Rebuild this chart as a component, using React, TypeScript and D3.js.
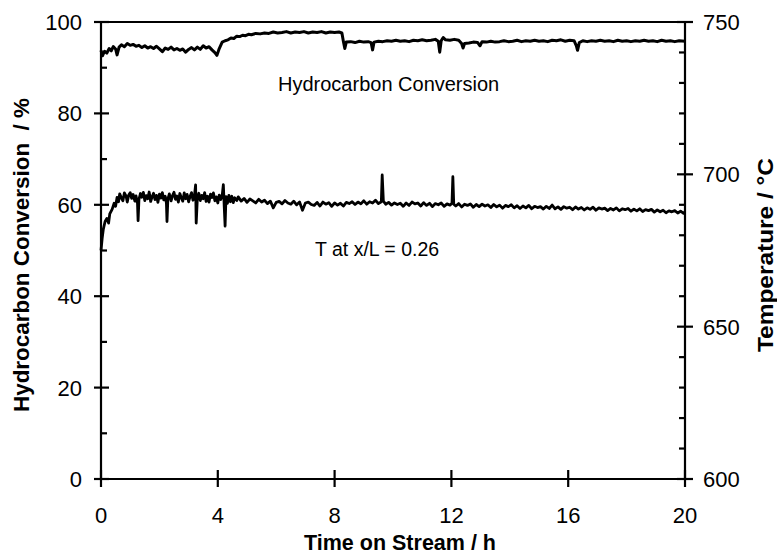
import React from "react";
import * as d3 from "d3";

// Hydrocarbon conversion (%) vs time on stream (h)
const conversion: [number, number][] = [
  [0,93.8],[0.05,92.6],[0.12,93.6],[0.2,93.2],[0.28,94.2],[0.35,93.7],[0.42,94.6],[0.5,94.1],[0.55,92.8],[0.62,94.5],[0.7,95.0],[0.8,94.6],[0.9,95.3],[1.0,94.9],[1.1,95.1],[1.2,94.7],[1.3,94.9],[1.4,94.4],[1.5,94.8],[1.6,94.3],[1.7,94.6],[1.8,94.2],[1.9,94.7],[2.0,94.1],[2.1,93.5],[2.2,94.3],[2.3,94.0],[2.4,94.5],[2.5,93.9],[2.6,94.2],[2.7,93.8],[2.8,94.1],[2.9,93.4],[3.0,94.0],[3.1,94.4],[3.2,93.9],[3.3,94.5],[3.4,94.0],[3.5,94.8],[3.6,94.3],[3.7,94.6],[3.8,93.9],[3.9,93.3],[3.97,92.7],[4.05,94.2],[4.15,95.6],[4.25,95.9],[4.35,96.1],[4.45,96.5],[4.55,96.4],[4.65,96.9],[4.75,96.8],[4.85,97.1],[4.95,97.0],[5.05,97.3],[5.15,97.2],[5.3,97.5],[5.45,97.4],[5.6,97.6],[5.75,97.5],[5.9,97.8],[6.05,97.6],[6.2,97.7],[6.35,97.9],[6.5,97.6],[6.65,97.8],[6.8,97.7],[6.95,97.9],[7.1,97.6],[7.25,97.8],[7.4,97.7],[7.55,97.9],[7.7,97.6],[7.85,97.8],[8.0,97.7],[8.15,97.8],[8.25,97.6],[8.3,95.8],[8.35,94.2],[8.4,95.6],[8.55,95.7],[8.7,95.5],[8.85,95.8],[9.0,95.6],[9.15,95.7],[9.25,95.5],[9.3,93.9],[9.35,95.6],[9.5,95.8],[9.65,95.7],[9.8,95.9],[9.95,95.8],[10.1,96.0],[10.25,95.8],[10.4,95.9],[10.55,95.7],[10.7,96.0],[10.85,95.9],[11.0,96.1],[11.15,95.9],[11.3,96.0],[11.45,96.2],[11.55,95.8],[11.6,93.4],[11.65,95.9],[11.72,96.6],[11.8,96.1],[11.95,96.0],[12.1,96.2],[12.25,96.0],[12.35,95.3],[12.4,94.3],[12.45,95.3],[12.6,95.4],[12.75,95.6],[12.9,95.5],[12.98,94.8],[13.05,95.7],[13.2,95.6],[13.35,95.8],[13.5,95.6],[13.65,95.7],[13.8,95.9],[13.95,95.7],[14.1,95.8],[14.25,96.0],[14.4,95.7],[14.55,95.9],[14.7,95.8],[14.85,96.0],[15.0,95.8],[15.15,95.9],[15.3,95.7],[15.45,96.0],[15.6,95.9],[15.75,96.1],[15.9,95.8],[16.05,96.0],[16.2,95.9],[16.28,94.8],[16.32,93.8],[16.38,95.5],[16.5,95.9],[16.65,95.7],[16.8,95.9],[16.95,95.8],[17.1,96.0],[17.25,95.8],[17.4,95.9],[17.55,95.7],[17.7,96.0],[17.85,95.8],[18.0,95.9],[18.15,95.7],[18.3,95.9],[18.45,95.8],[18.6,96.0],[18.75,95.8],[18.9,95.9],[19.05,95.7],[19.2,96.0],[19.35,95.8],[19.5,95.9],[19.65,95.7],[19.8,95.9],[20.0,95.8]
];

// Temperature at x/L = 0.26 (°C) vs time on stream (h)
const temperature: [number, number][] = [
  [0,675],[0.04,679],[0.08,682],[0.14,684.5],[0.2,685.5],[0.26,684],[0.3,687],[0.38,688.5],[0.45,690.5],
  [0.5,689.5],[0.55,692.4],[0.6,691.0],[0.64,693.6],[0.7,692.2],[0.75,691.3],[0.8,693.9],[0.86,692.8],[0.9,690.9],[0.95,693.2],[1.0,694.0],[1.05,692.1],[1.1,693.4],[1.16,691.2],[1.2,692.9],[1.25,690.5],[1.27,684.8],[1.3,691.8],[1.35,693.7],[1.4,692.5],[1.45,694.1],[1.5,691.4],[1.55,693.0],[1.6,692.0],[1.65,694.2],[1.7,691.1],[1.75,692.6],[1.8,693.8],[1.85,691.7],[1.9,693.1],[1.95,690.8],[2.0,693.5],[2.05,692.2],[2.1,694.0],[2.15,691.6],[2.2,692.8],[2.24,690.6],[2.26,684.5],[2.29,691.9],[2.34,693.6],[2.4,691.3],[2.45,693.0],[2.5,694.1],[2.55,691.8],[2.6,692.9],[2.65,690.9],[2.7,693.7],[2.75,692.3],[2.8,691.2],[2.85,693.9],[2.9,692.0],[2.95,693.4],[3.0,691.0],[3.05,692.7],[3.1,694.0],[3.15,691.5],[3.2,692.9],[3.24,696.5],[3.26,684.0],[3.3,692.2],[3.35,693.8],[3.4,691.4],[3.45,693.1],[3.5,692.0],[3.55,694.0],[3.6,691.1],[3.65,692.8],[3.7,690.9],[3.75,693.5],[3.8,692.4],[3.85,693.9],[3.9,691.3],[3.95,692.6],[4.0,690.6],[4.05,693.2],[4.1,691.7],[4.15,693.0],[4.19,696.6],[4.22,689.5],[4.25,683.0],[4.28,692.7],[4.33,690.5],[4.38,693.1],[4.43,691.0],[4.48,692.8],[4.53,690.7],[4.58,692.3],[4.65,691.4],[4.7,692.6],
  [4.8,691.2],[4.9,692.1],[5.0,690.8],[5.1,691.9],[5.2,691.3],[5.3,690.6],[5.4,691.8],[5.5,690.9],[5.6,691.5],[5.7,690.4],[5.8,691.2],[5.9,689.0],[6.0,690.8],[6.1,691.1],[6.2,690.3],[6.3,691.4],[6.4,690.6],[6.5,690.2],[6.6,691.2],[6.7,690.0],[6.8,690.9],[6.9,688.2],[7.0,690.6],[7.1,690.9],[7.2,690.1],[7.3,689.8],[7.4,690.8],[7.5,689.6],[7.6,690.9],[7.7,690.2],[7.8,690.7],[7.9,689.5],[8.0,690.6],[8.1,689.9],[8.2,690.5],[8.3,689.6],[8.4,690.8],[8.5,690.4],[8.6,691.0],[8.7,690.1],[8.8,690.9],[8.9,690.3],[9.0,691.3],[9.1,690.2],[9.2,691.0],[9.3,690.6],[9.4,691.5],[9.5,690.4],[9.6,691.0],[9.63,699.8],[9.67,691.2],[9.75,690.2],[9.85,690.8],[9.95,689.9],[10.05,690.6],[10.15,690.1],[10.25,690.5],[10.35,689.5],[10.45,690.6],[10.55,689.8],[10.65,690.9],[10.75,690.3],[10.85,690.6],[10.95,689.6],[11.05,690.7],[11.15,689.8],[11.25,690.5],[11.35,689.4],[11.45,690.4],[11.55,690.0],[11.65,690.6],[11.75,689.5],[11.85,690.3],[11.95,689.9],[12.02,690.5],[12.05,699.2],[12.08,690.2],[12.15,689.6],[12.25,690.4],[12.35,689.3],[12.45,690.2],[12.55,689.8],[12.65,690.3],[12.75,689.2],[12.85,690.1],[12.95,689.4],[13.05,690.2],[13.15,689.6],[13.25,690.0],[13.35,689.1],[13.45,690.1],[13.55,689.3],[13.65,689.9],[13.75,688.9],[13.85,689.8],[13.95,689.4],[14.05,690.0],[14.15,689.0],[14.25,689.7],[14.35,688.8],[14.45,689.6],[14.55,689.0],[14.65,689.8],[14.75,688.7],[14.85,689.5],[14.95,689.1],[15.05,689.4],[15.15,688.6],[15.25,689.5],[15.35,688.8],[15.45,689.9],[15.55,688.7],[15.65,689.3],[15.75,688.5],[15.85,689.4],[15.95,688.9],[16.05,689.2],[16.15,688.4],[16.25,689.3],[16.35,688.6],[16.45,689.1],[16.55,688.3],[16.65,689.0],[16.75,688.5],[16.85,689.2],[16.95,688.2],[17.05,689.0],[17.15,688.6],[17.25,688.9],[17.35,688.1],[17.45,688.8],[17.55,688.3],[17.65,689.0],[17.75,688.0],[17.85,688.7],[17.95,688.4],[18.05,688.8],[18.15,687.9],[18.25,688.6],[18.35,688.0],[18.45,688.7],[18.55,687.8],[18.65,688.4],[18.75,688.1],[18.85,688.5],[18.95,687.6],[19.05,688.3],[19.15,687.7],[19.25,688.2],[19.35,687.4],[19.45,688.0],[19.55,687.7],[19.65,688.1],[19.75,687.3],[19.85,687.9],[19.95,687.2],[20.0,687.8]
];

const xTicks = [0, 4, 8, 12, 16, 20];
const leftTicks = [0, 20, 40, 60, 80, 100];
const leftMinor = [10, 30, 50, 70, 90];
const rightTicks = [600, 650, 700, 750];
const rightMinor = [610, 620, 630, 640, 660, 670, 680, 690, 710, 720, 730, 740];

const W = 777, H = 555;
const L = 101, R = 685, T = 22, B = 479;
const FONT = "'Liberation Sans', Arial, Helvetica, sans-serif";

export default function App() {
  const x = d3.scaleLinear().domain([0, 20]).range([L, R]);
  const yL = d3.scaleLinear().domain([0, 100]).range([B, T]);
  const yR = d3.scaleLinear().domain([600, 750]).range([B, T]);

  const convLine = d3.line<[number, number]>().x(d => x(d[0])).y(d => yL(d[1]))(conversion) || "";
  const tempLine = d3.line<[number, number]>().x(d => x(d[0])).y(d => yR(d[1]))(temperature) || "";

  const sw = 2.2;
  return (
    <svg width={W} height={H} style={{ position: "absolute", left: 0, top: 0, background: "#fff" }} fontFamily={FONT}>
      <rect x={0} y={0} width={W} height={H} fill="#fff" />
      {/* frame */}
      <line x1={L} x2={R} y1={T} y2={T} stroke="#000" strokeWidth={sw} />
      <line x1={L} x2={R} y1={B} y2={B} stroke="#000" strokeWidth={sw} />
      <line x1={L} x2={L} y1={T} y2={B} stroke="#000" strokeWidth={sw} />
      <line x1={R} x2={R} y1={T} y2={B} stroke="#000" strokeWidth={sw} />

      {/* bottom ticks */}
      {xTicks.map(t => (
        <g key={"x" + t}>
          <line x1={x(t)} x2={x(t)} y1={B - 9} y2={B + 8} stroke="#000" strokeWidth={sw} />
          <text x={x(t)} y={523} textAnchor="middle" fontSize={22}>{t}</text>
        </g>
      ))}
      {/* left ticks */}
      {leftTicks.map(t => (
        <g key={"l" + t}>
          <line x1={L - 7} x2={L + 8} y1={yL(t)} y2={yL(t)} stroke="#000" strokeWidth={sw} />
          <text x={82} y={yL(t) + 8} textAnchor="end" fontSize={22}>{t}</text>
        </g>
      ))}
      {leftMinor.map(t => (
        <line key={"lm" + t} x1={L} x2={L + 6} y1={yL(t)} y2={yL(t)} stroke="#000" strokeWidth={sw} />
      ))}
      {/* right ticks */}
      {rightTicks.map(t => (
        <g key={"r" + t}>
          <line x1={R - 8} x2={R + 8} y1={yR(t)} y2={yR(t)} stroke="#000" strokeWidth={sw} />
          <text x={703} y={yR(t) + 8} textAnchor="start" fontSize={22}>{t}</text>
        </g>
      ))}
      {rightMinor.map(t => (
        <line key={"rm" + t} x1={R - 6} x2={R} y1={yR(t)} y2={yR(t)} stroke="#000" strokeWidth={sw} />
      ))}

      {/* series */}
      <path d={convLine} fill="none" stroke="#000" strokeWidth={3} strokeLinejoin="round" />
      <path d={tempLine} fill="none" stroke="#000" strokeWidth={2.8} strokeLinejoin="round" />

      {/* annotations */}
      <text x={278} y={91} fontSize={20}>Hydrocarbon Conversion</text>
      <text x={315} y={256} fontSize={19.5}>T at x/L = 0.26</text>

      {/* axis titles */}
      <text x={400} y={550} textAnchor="middle" fontSize={21.5} fontWeight="bold">Time on Stream / h</text>
      <text transform={`translate(29,255) rotate(-90)`} textAnchor="middle" fontSize={22} fontWeight="bold"
        textLength={314} lengthAdjust="spacingAndGlyphs" style={{ whiteSpace: "pre" }}>Hydrocarbon Conversion  / %</text>
      <text transform={`translate(773,255) rotate(-90)`} textAnchor="middle" fontSize={22} fontWeight="bold"
        textLength={194} lengthAdjust="spacingAndGlyphs">Temperature / °C</text>
    </svg>
  );
}
